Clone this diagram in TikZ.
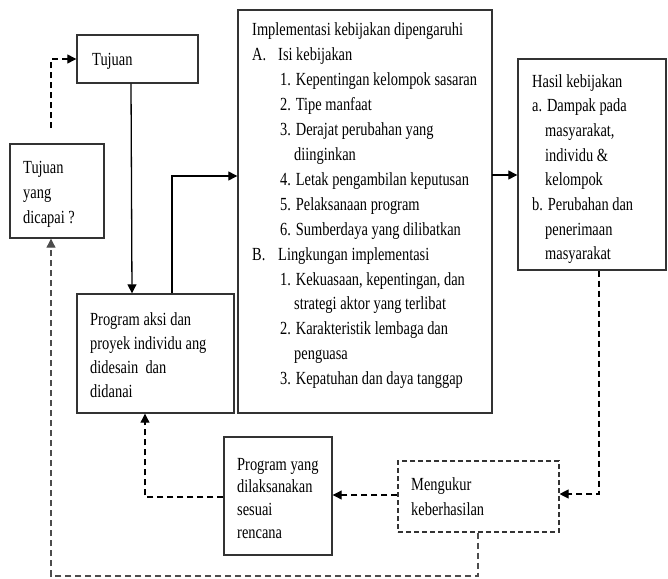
\documentclass[tikz,border=0pt]{standalone}
\usepackage{fontspec}
\setmainfont[FakeStretch=0.78]{Liberation Serif}
\usetikzlibrary{arrows.meta}
\begin{document}
\begin{tikzpicture}[x=1pt,y=-1pt,
  box/.style={draw=black!80,line width=1.4pt,inner sep=0pt},
  dbox/.style={box,dash pattern=on 5pt off 3pt,line width=1.1pt},
  txt/.style={anchor=base west,inner sep=0pt,font=\fontsize{18.5}{22}\selectfont},
  arr/.style={line width=1.3pt,-{Triangle[length=9pt,width=9pt]}},
  dasharr/.style={arr,dash pattern=on 6pt off 4pt},
  fdash/.style={line width=1.1pt,dash pattern=on 6pt off 4pt,black!70,-{Triangle[length=9pt,width=9pt]}}]
\useasboundingbox[fill=white] (0,0) rectangle (668,578);

% boxes
\node[box,minimum width=121pt,minimum height=48pt] (tujuan) at (137.5,59) {};
\node[box,minimum width=94pt,minimum height=94pt] (dicapai) at (57,191) {};
\node[box,minimum width=157pt,minimum height=119pt] (aksi) at (155.5,353.5) {};
\node[box,minimum width=254pt,minimum height=403pt] (impl) at (365,211.5) {};
\node[box,minimum width=148pt,minimum height=211pt] (hasil) at (592,164.5) {};
\node[dbox,minimum width=161pt,minimum height=71pt] (ukur) at (478.5,496.5) {};
\node[box,minimum width=108pt,minimum height=118pt] (prog) at (278,496) {};

% texts
\node[txt] (t-tujuan) at (92,65) {Tujuan};
\foreach \t [count=\i from 0] in {Tujuan,yang,dicapai ?}
  \node[txt] (dc-\i) at (23,{173+\i*25}) {\t};
\foreach \t [count=\i from 0] in {Program aksi dan,proyek individu ang,didesain\ \ dan,didanai}
  \node[txt] (ak-\i) at (90,{325+\i*24}) {\t};
\foreach \t [count=\i from 0] in {Program yang,dilaksanakan,sesuai,rencana}
  \node[txt] (pg-\i) at (237,{470+\i*22.7}) {\t};
\foreach \t [count=\i from 0] in {Mengukur,keberhasilan}
  \node[txt] (uk-\i) at (411,{490+\i*25}) {\t};
\foreach \x/\t [count=\i from 0] in {532/{Hasil kebijakan},532/{a. Dampak pada},545/{masyarakat,},545/{individu \&},545/{kelompok},532/{b. Perubahan dan},545/{penerimaan},545/{masyarakat}}
  \node[txt] (hs-\i) at (\x,{87+\i*24.7}) {\t};
\foreach \x/\t [count=\i from 0] in {
  252/{Implementasi kebijakan dipengaruhi},
  252/{A.},
  280/{1. Kepentingan kelompok sasaran},
  280/{2. Tipe manfaat},
  280/{3. Derajat perubahan yang},
  294/{diinginkan},
  280/{4. Letak pengambilan keputusan},
  280/{5. Pelaksanaan program},
  280/{6. Sumberdaya yang dilibatkan},
  252/{B.},
  280/{1. Kekuasaan, kepentingan, dan},
  294/{strategi aktor yang terlibat},
  280/{2. Karakteristik lembaga dan},
  294/{penguasa},
  280/{3. Kepatuhan dan daya tanggap}}
  \node[txt] (im-\i) at (\x,{36+\i*24.9}) {\t};
\node[txt] (im-A) at (278,{36+24.9}) {Isi kebijakan};
\node[txt] (im-B) at (278,{36+9*24.9}) {Lingkungan implementasi};

% connectors
\coordinate (c1) at (51,128);
\draw[dasharr] (c1) |- (tujuan.west);
\draw[arr] ([xshift=-6.5pt]tujuan.south) -- ([xshift=-23.5pt]aksi.north);
\coordinate (c2) at (172,176);
\draw[arr] ([xshift=16.5pt]aksi.north) -- (c2) -- (c2 -| impl.west);
\coordinate (c3) at (492,175);
\draw[arr] (c3) -- (c3 -| hasil.west);
\coordinate (c4) at (599,494);
\draw[dasharr,line width=1.1pt] ([xshift=7pt]hasil.south) -- (c4) -- (c4 -| ukur.east);
\coordinate (c5) at (400,495);
\draw[dasharr,line width=1.1pt] (c5 -| ukur.west) -- (c5 -| prog.east);
\coordinate (c6) at (145,497);
\draw[dasharr,line width=1.1pt] (c6 -| prog.west) -- (c6) -- (c6 |- aksi.south);
\coordinate (c7) at (478,576);
\coordinate (c8) at (51,576);
\draw[fdash] ([xshift=-0.5pt]ukur.south) -- (c7) -- (c8) -- (c8 |- dicapai.south);
\end{tikzpicture}
\end{document}
